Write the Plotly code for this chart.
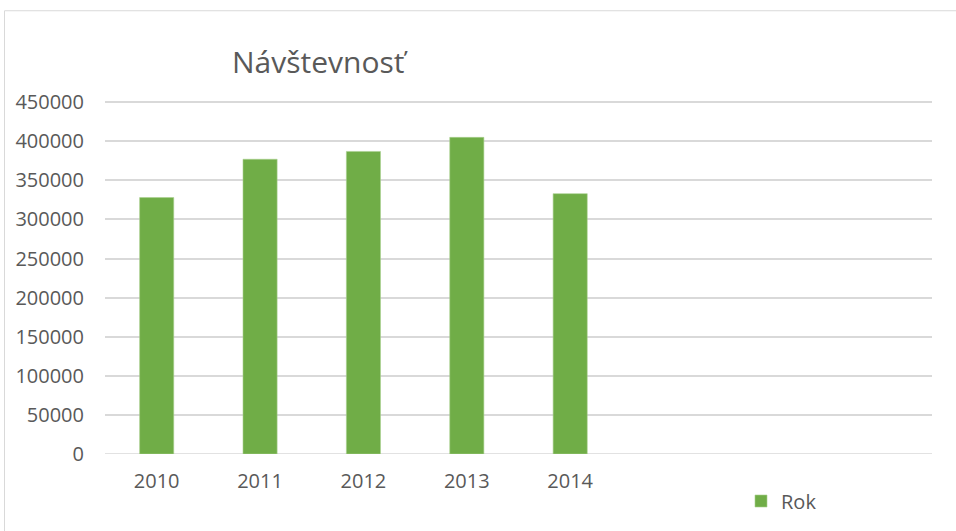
import plotly.graph_objects as go

years = ["2010", "2011", "2012", "2013", "2014"]
visits = [328000, 377000, 387000, 405000, 333000]
empty_slots = 3  # extra empty category slots on the x axis
y_ticks = [0, 50000, 100000, 150000, 200000, 250000, 300000, 350000, 400000, 450000]

W, H = 956, 531
L, R, T, B = 105, 24, 101, 76
pw, ph = W - L - R, H - T - B

n_cat = len(years) + empty_slots
xpos = list(range(len(years)))

fig = go.Figure()
fig.add_trace(go.Bar(
    x=xpos, y=visits, name="Rok", width=0.33,
    marker=dict(color="#70ad47", line=dict(color="#a9d08e", width=0.6)),
    showlegend=True,
))

txt = "#595959"
fig.update_layout(
    width=W, height=H,
    margin=dict(l=L, r=R, t=T, b=B),
    paper_bgcolor="white", plot_bgcolor="white",
    font=dict(family="Open Sans", color=txt, size=20),
    title=dict(text="Návštevnosť", xref="container", yref="container",
               x=232 / W, xanchor="left", y=1 - 62 / H, yanchor="middle",
               font=dict(size=30, color=txt, family="Open Sans")),
    xaxis=dict(range=[-0.5, n_cat - 0.5], tickvals=xpos, ticktext=years,
               showgrid=False, zeroline=False, showline=False, ticks="",
               tickfont=dict(size=20, color=txt), ticklabelstandoff=13),
    yaxis=dict(range=[0, 451500], tickvals=y_ticks, ticktext=[str(v) for v in y_ticks],
               showgrid=True, gridcolor="#d9d9d9", gridwidth=1.5,
               zeroline=False, showline=False, ticks="",
               tickfont=dict(size=20, color=txt), ticklabelstandoff=20),
    legend=dict(x=(741 - L) / pw, y=-(501 - (H - B)) / ph, xanchor="left", yanchor="middle",
                font=dict(size=20, color=txt), bgcolor="rgba(0,0,0,0)"),
    bargap=0.67,
    shapes=[dict(type="rect", xref="paper", yref="paper",
                 x0=(4.5 - L) / pw, x1=1.2, y0=-0.6, y1=(H - B - 10.5) / ph,
                 line=dict(color="#d9d9d9", width=1), fillcolor="rgba(0,0,0,0)", layer="below")],
)
fig.add_shape(type="line", xref="paper", yref="y", x0=0, x1=1, y0=0, y1=0,
              line=dict(color="#d9d9d9", width=1.5), layer="below")

fig.write_html("out.html")
